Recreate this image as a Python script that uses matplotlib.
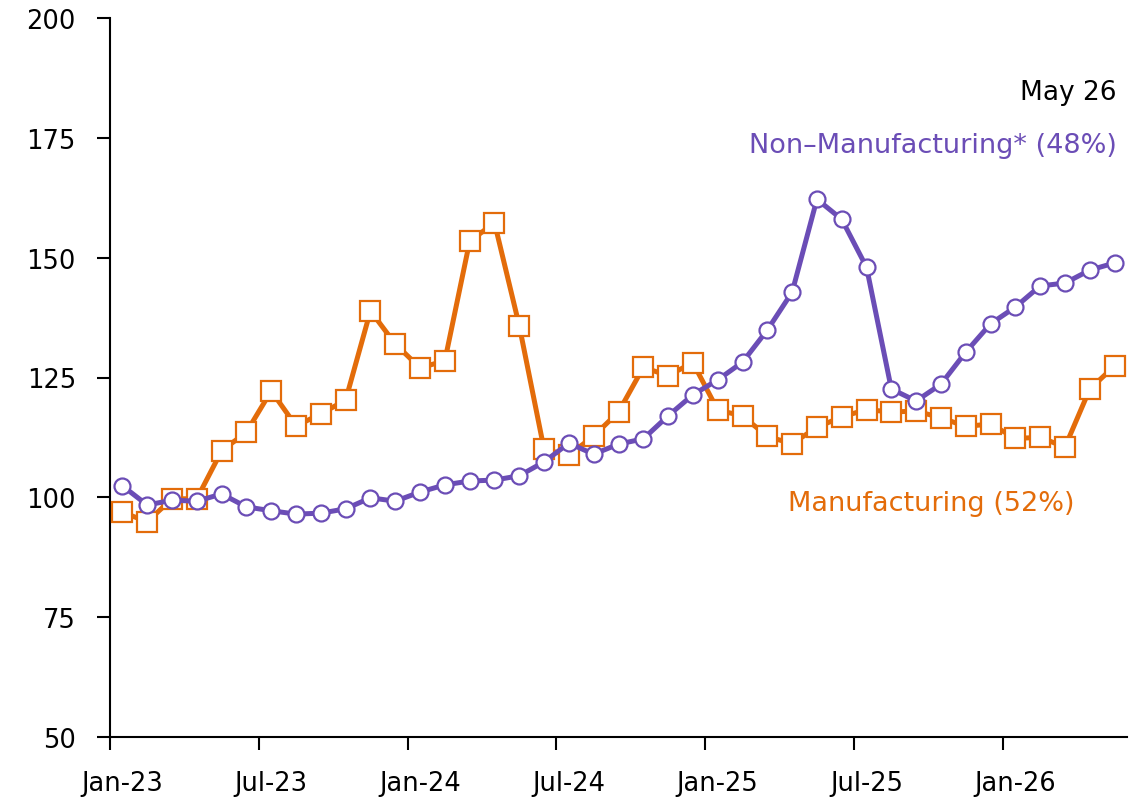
import matplotlib.pyplot as plt
import numpy as np

# data (index, Jan-23 .. May-26)
months = ['Jan-23', 'Feb-23', 'Mar-23', 'Apr-23', 'May-23', 'Jun-23', 'Jul-23', 'Aug-23', 'Sep-23',
          'Oct-23', 'Nov-23', 'Dec-23', 'Jan-24', 'Feb-24', 'Mar-24', 'Apr-24', 'May-24', 'Jun-24',
          'Jul-24', 'Aug-24', 'Sep-24', 'Oct-24', 'Nov-24', 'Dec-24', 'Jan-25', 'Feb-25', 'Mar-25',
          'Apr-25', 'May-25', 'Jun-25', 'Jul-25', 'Aug-25', 'Sep-25', 'Oct-25', 'Nov-25', 'Dec-25',
          'Jan-26', 'Feb-26', 'Mar-26', 'Apr-26', 'May-26']
manufacturing = [96.9, 94.9, 99.7, 99.7, 109.7, 113.6, 122.2, 114.9, 117.4, 120.3, 138.9, 132.0,
                 127.0, 128.5, 153.4, 157.3, 135.8, 110.0, 108.8, 112.8, 117.8, 127.1, 125.4, 128.1,
                 118.2, 117.0, 112.7, 111.2, 114.6, 116.8, 118.3, 117.8, 118.0, 116.6, 114.8, 115.3,
                 112.3, 112.5, 110.5, 122.6, 127.4]
non_manufacturing = [102.4, 98.4, 99.4, 99.2, 100.7, 98.0, 97.2, 96.5, 96.7, 97.6, 99.9, 99.2,
                     101.1, 102.6, 103.4, 103.6, 104.5, 107.4, 111.3, 109.0, 111.1, 112.2, 117.0, 121.4,
                     124.5, 128.2, 134.9, 142.8, 162.2, 158.0, 148.0, 122.6, 120.1, 123.6, 130.3, 136.2,
                     139.7, 144.1, 144.7, 147.4, 148.9]
yticks = [50, 75, 100, 125, 150, 175, 200]

orange = '#E36C0A'
purple = '#6B4DB6'

fig = plt.figure(figsize=(11.45, 8.04), dpi=100)
ax = fig.add_axes([110 / 1145, 1 - 738 / 804, (1127 - 110) / 1145, (738 - 19) / 804])

x = np.arange(len(months)) + 0.5

ax.plot(x, manufacturing, color=orange, lw=3.6, marker='s', ms=15,
        mfc='white', mec=orange, mew=1.6, zorder=3)
ax.plot(x, non_manufacturing, color=purple, lw=3.6, marker='o', ms=11.5,
        mfc='white', mec=purple, mew=1.6, zorder=4)

ax.set_xlim(0, len(months))
ax.set_ylim(50, 200)
ax.set_yticks(yticks)
# tick marks on month boundaries, labels centred under the month
ax.set_xticks(np.arange(0, len(months), 6))
ax.set_xticklabels([])
ax.set_xticks(np.arange(0, len(months), 6) + 0.5, minor=True)
ax.set_xticklabels(months[::6], minor=True)

for s in ['top', 'right']:
    ax.spines[s].set_visible(False)
for s in ['left', 'bottom']:
    ax.spines[s].set_linewidth(1.5)
ax.tick_params(axis='y', length=9.5, width=1.5, labelsize=18.5, pad=15)
ax.tick_params(axis='x', which='major', length=9, width=1.5)
ax.tick_params(axis='x', which='minor', length=0, labelsize=18.5, pad=24)

# labels
ax.text(0.99, 0.897, 'May 26', transform=ax.transAxes, ha='right', va='center',
        fontsize=19, color='black')
ax.text(0.99, 0.823, 'Non\u2013Manufacturing* (48%)', transform=ax.transAxes, ha='right',
        va='center', fontsize=19.5, color=purple)
ax.text(0.948, 0.325, 'Manufacturing (52%)', transform=ax.transAxes, ha='right',
        va='center', fontsize=19.5, color=orange)

plt.savefig('out.png', dpi=100)
